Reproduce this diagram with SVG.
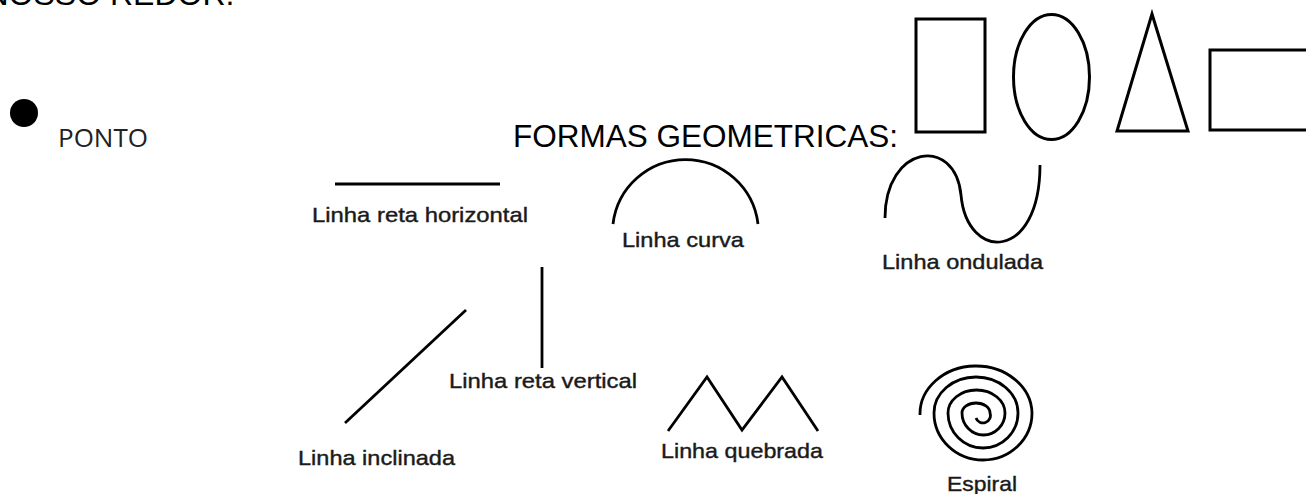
<svg xmlns="http://www.w3.org/2000/svg" width="1306" height="494" viewBox="0 0 1306 494">
<style>
.title{font-family:"Liberation Sans",Arial,sans-serif;font-size:32px;fill:#000}
.lbl{font-family:"Liberation Sans",Arial,sans-serif;font-size:21px;fill:#1a1a1a;stroke:#1a1a1a;stroke-width:0.4}
.shape{fill:none;stroke:#000;stroke-width:3;stroke-linejoin:miter}
.ln{fill:none;stroke:#000;stroke-width:2.8;stroke-linecap:butt;stroke-linejoin:miter}
</style>
<rect width="1306" height="494" fill="#fff"/>
<text class="title" x="-14.5" y="5">NOSSO REDOR.</text>
<g id="ponto">
<circle cx="24" cy="113" r="14" fill="#000"/>
<text x="58" y="147" font-family="'Open Sans','Noto Sans',sans-serif" font-size="26" fill="#222">PONTO</text>
</g>
<g id="formas">
<text class="title" x="513" y="146.5" textLength="385" lengthAdjust="spacingAndGlyphs">FORMAS GEOMETRICAS:</text>
<rect class="shape" x="916" y="19" width="69" height="113"/>
<ellipse class="shape" cx="1051.5" cy="77" rx="38" ry="62.5"/>
<polygon class="shape" points="1152,14 1117,131 1188,131"/>
<rect class="shape" x="1210" y="50" width="120" height="80"/>
</g>
<g id="linha-reta-horizontal">
<line class="ln" x1="335" y1="184" x2="500" y2="184" stroke-width="3.2"/>
<text class="lbl" x="312" y="222" textLength="216" lengthAdjust="spacingAndGlyphs">Linha reta horizontal</text>
</g>
<g id="linha-curva">
<path class="ln" d="M613,224 A73,73 0 0 1 758,224"/>
<text class="lbl" x="622" y="247" textLength="122" lengthAdjust="spacingAndGlyphs">Linha curva</text>
</g>
<g id="linha-ondulada">
<path class="ln" d="M885,218 C885,145 955,135 961,195 C967,262 1040,262 1040,165"/>
<text class="lbl" x="882" y="269" textLength="161" lengthAdjust="spacingAndGlyphs">Linha ondulada</text>
</g>
<g id="linha-reta-vertical">
<line class="ln" x1="542" y1="267" x2="542" y2="368" stroke-width="3.2"/>
<text class="lbl" x="449" y="388" textLength="188" lengthAdjust="spacingAndGlyphs">Linha reta vertical</text>
</g>
<g id="linha-inclinada">
<line class="ln" x1="345" y1="423" x2="466" y2="310" stroke-width="2.5"/>
<text class="lbl" x="298" y="465" textLength="157" lengthAdjust="spacingAndGlyphs">Linha inclinada</text>
</g>
<g id="linha-quebrada">
<polyline class="ln" points="668,431 707,377 742,430 782,377 818,431" stroke-width="2.5"/>
<text class="lbl" x="661" y="458" textLength="162" lengthAdjust="spacingAndGlyphs">Linha quebrada</text>
</g>
<g id="espiral">
<path class="ln" stroke-width="2.5" d="M920,415 A56,48 0 0 1 1032,413 A49,47 0 0 1 934,413 A42,36 0 0 1 1018,413 A35,35 0 0 1 948,413 A28.5,23 0 0 1 1005,413 A21.5,22 0 0 1 962,413 A14,10 0 0 1 990,413 A7,7 0 0 1 976,418"/>
<text class="lbl" x="947" y="491" textLength="70" lengthAdjust="spacingAndGlyphs">Espiral</text>
</g>
</svg>
